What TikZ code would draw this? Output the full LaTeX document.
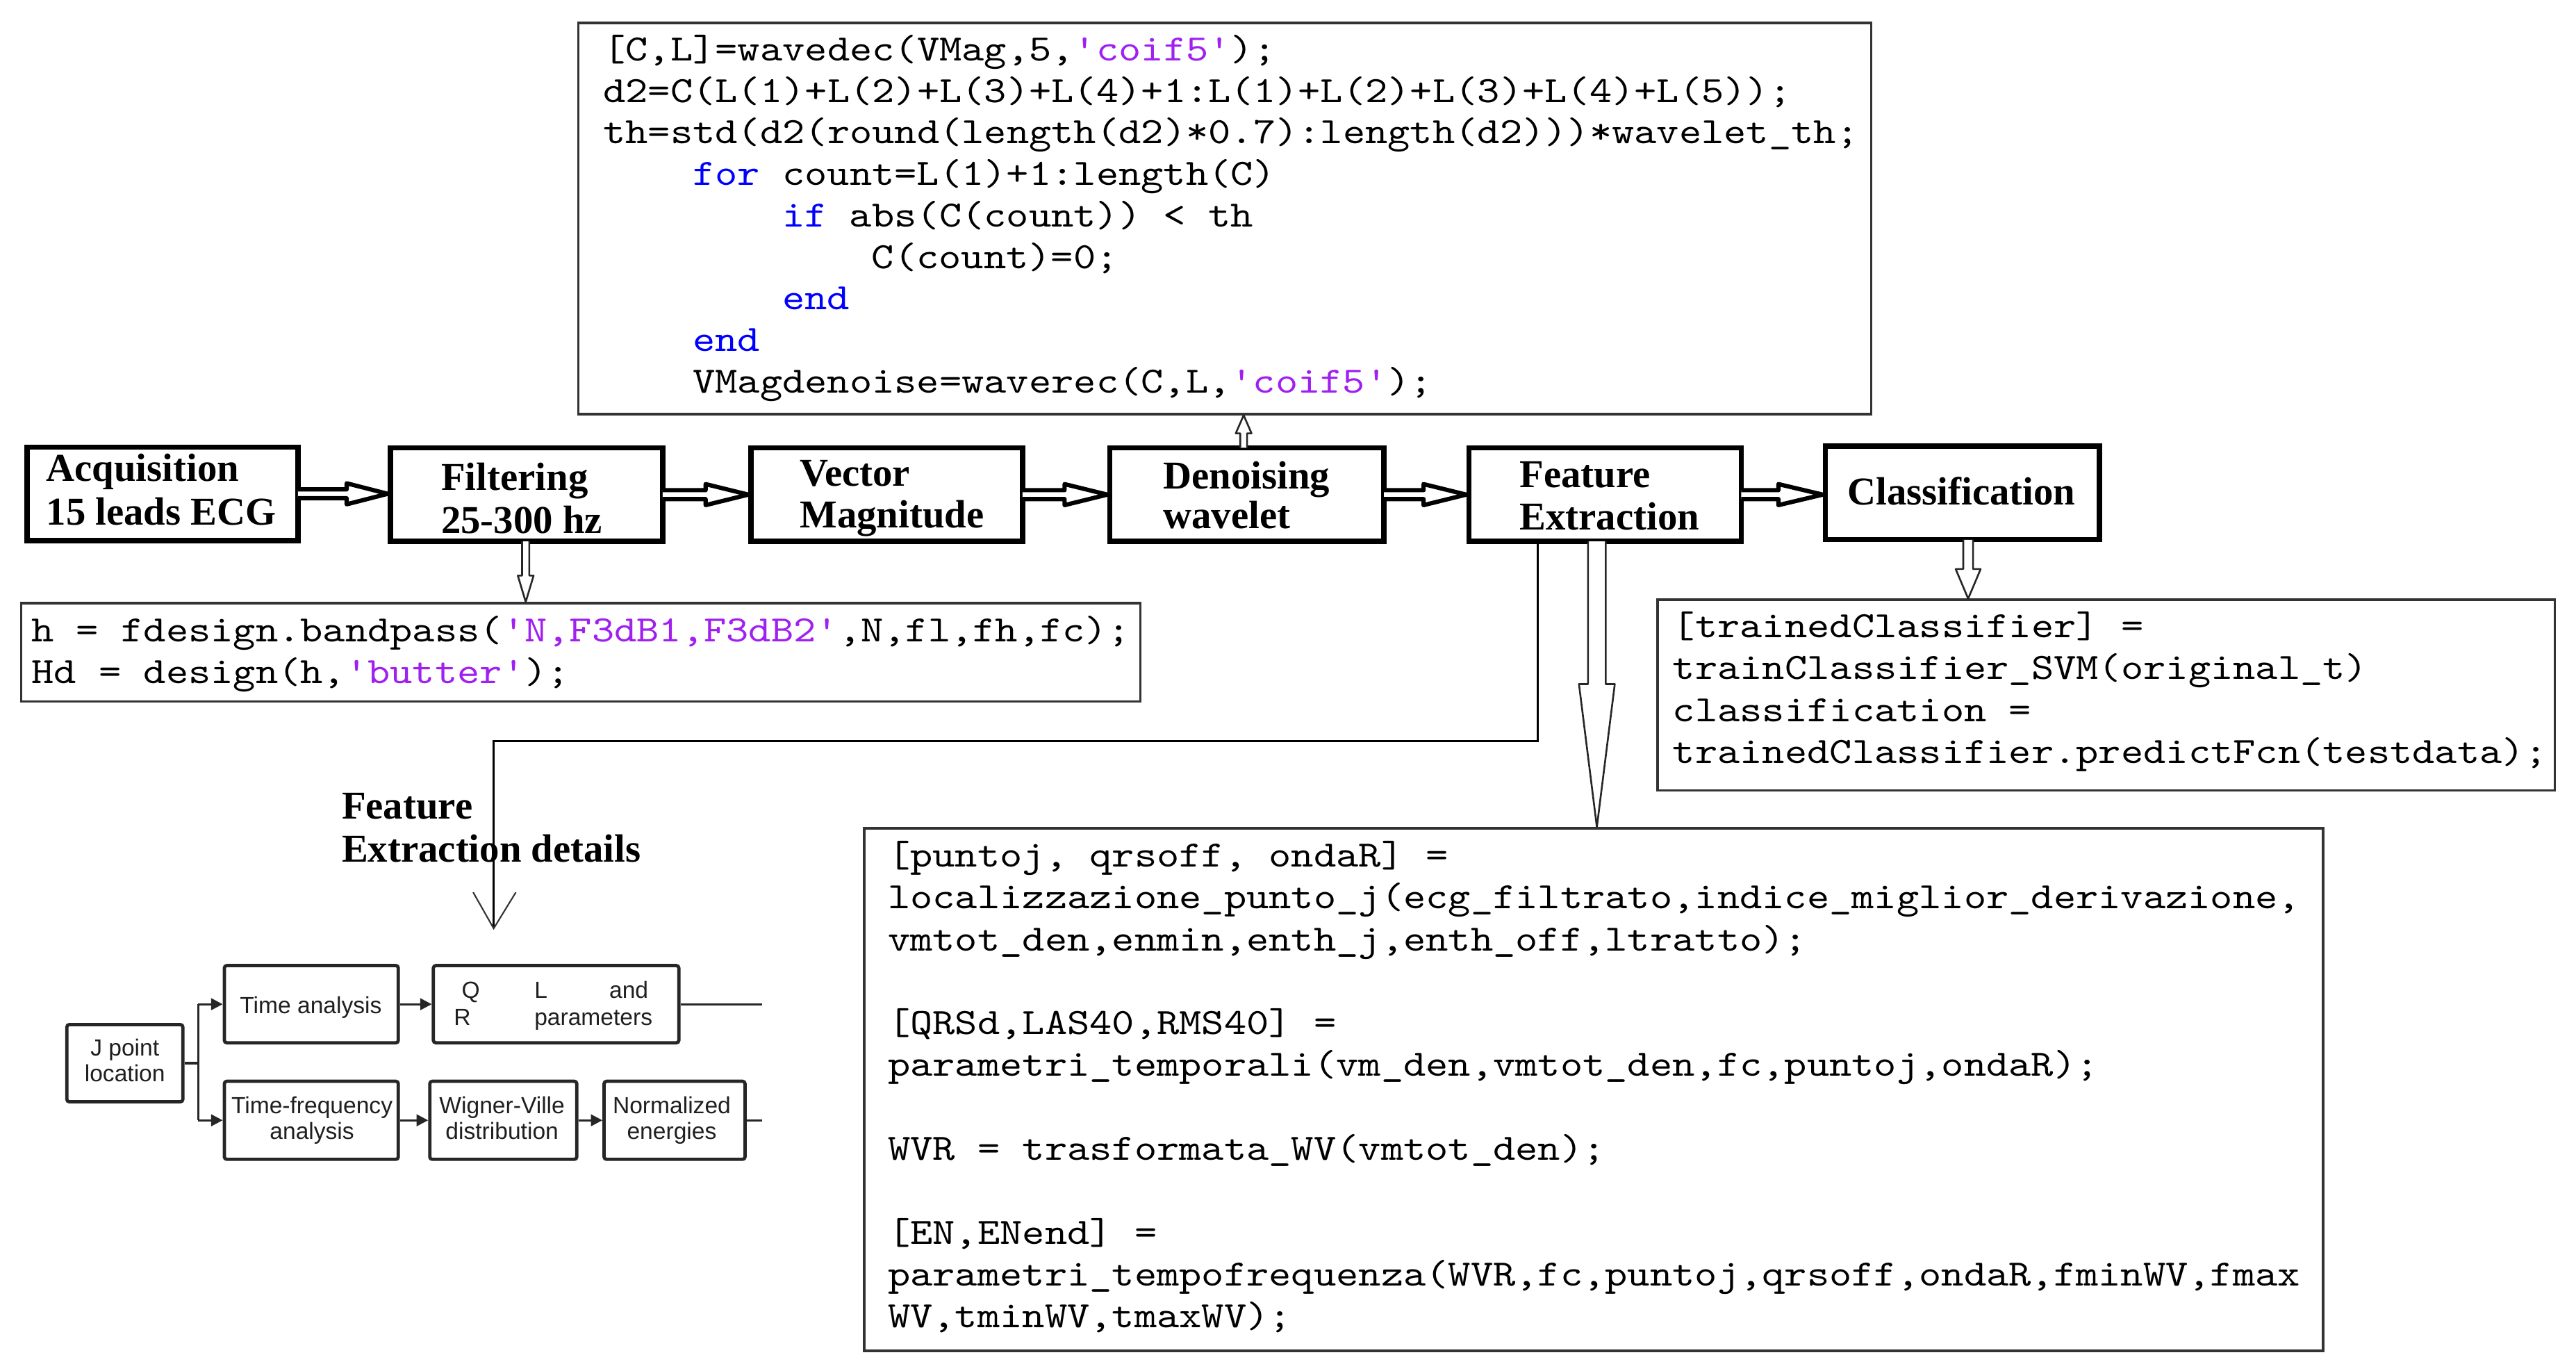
\documentclass[tikz,border=0pt]{standalone}
\usepackage{fontspec}
\setmainfont{Liberation Serif}
\setsansfont{Liberation Sans}
\newfontfamily\cmono[FakeStretch=1.15]{lmmono10-regular.otf}
\usetikzlibrary{calc,arrows.meta}
\definecolor{mstrcol}{HTML}{A020F0}
\definecolor{mkwcol}{HTML}{0000FF}
\newcommand{\strc}[1]{\textcolor{mstrcol}{#1}}
\newcommand{\kwc}[1]{\textcolor{mkwcol}{#1}}
% #1 from, #2 to, #3 shaft half, #4 head half, #5 head length
\newcommand{\hollowright}[5]{%
  \filldraw[hollowthick] let \p1=(#1), \p2=(#2) in
    (\x1-1.6pt,\y1+#3pt) -- (\x2-#5pt,\y1+#3pt) -- (\x2-#5pt,\y1+#4pt) -- (\x2,\y1)
    -- (\x2-#5pt,\y1-#4pt) -- (\x2-#5pt,\y1-#3pt) -- (\x1-1.6pt,\y1-#3pt);}
% #1 x, #2 from, #3 to, #4 shaft half, #5 head half, #6 head length
\newcommand{\hollowdown}[6]{%
  \filldraw[hollowthin] let \p1=(#2), \p2=(#3) in
    (#1pt-#4pt,\y1+1.5pt) -- (#1pt-#4pt,\y2+#6pt) -- (#1pt-#5pt,\y2+#6pt) -- (#1pt,\y2)
    -- (#1pt+#5pt,\y2+#6pt) -- (#1pt+#4pt,\y2+#6pt) -- (#1pt+#4pt,\y1+1.5pt);}
\newcommand{\hollowup}[6]{%
  \filldraw[hollowthin] let \p1=(#2), \p2=(#3) in
    (#1pt-#4pt,\y1-1.5pt) -- (#1pt-#4pt,\y2-#6pt) -- (#1pt-#5pt,\y2-#6pt) -- (#1pt,\y2)
    -- (#1pt+#5pt,\y2-#6pt) -- (#1pt+#4pt,\y2-#6pt) -- (#1pt+#4pt,\y1-1.5pt);}
\tikzset{
  mainbox/.style={draw=black, line width=3.2pt, minimum height=56.8pt, inner sep=0},
  maintext/.style={anchor=base west, inner sep=0, font=\bfseries\fontsize{24}{26}\selectfont},
  codebox/.style={draw=black!80, line width=1.4pt, inner sep=0},
  codeline/.style={anchor=base west, inner sep=0, font=\cmono\fontsize{22.6}{25}\selectfont},
  hollowthick/.style={draw=black, fill=white, line width=2.6pt, line join=round},
  hollowthin/.style={draw=black!85, fill=white, line width=1.1pt, line join=round},
  thinline/.style={draw=black, line width=1.2pt},
  thinv/.style={draw=black!80, line width=0.9pt},
  subbox/.style={draw=black!85, line width=2pt, rounded corners=1.5pt, inner sep=0},
  subline/.style={draw=black!85, line width=1.3pt},
  subarr/.style={subline, -{Triangle[length=7pt,width=7pt]}},
  subtext/.style={anchor=base, inner sep=0, font=\sffamily\fontsize{14.2}{16}\selectfont, text=black!88},
  subtextw/.style={subtext, anchor=base west}
}
\begin{document}
\begin{tikzpicture}[x=1pt,y=-1pt]
\useasboundingbox (0,0) rectangle (1568,834);

% ---------- main flow boxes ----------
\node[mainbox, minimum width=164.8pt] (acq) at (99,300.5) {};
\node[mainbox, minimum width=165.8pt] (filt) at (320.5,301) {};
\node[mainbox, minimum width=165.3pt] (vec) at (539.75,301) {};
\node[mainbox, minimum width=166.8pt] (den) at (759,301) {};
\node[mainbox, minimum width=165.8pt] (fe) at (977,301) {};
\node[mainbox, minimum width=166.8pt] (cls) at (1194.5,300) {};

\node[maintext] (acq1) at (28,293) {Acquisition};
\node[maintext] (acq2) at (28,319.5) {15 leads ECG};
\node[maintext] (filt1) at (268.4,298.5) {Filtering};
\node[maintext] (filt2) at (268.4,324.5) {25-300 hz};
\node[maintext] (vec1) at (486.7,296) {Vector};
\node[maintext] (vec2) at (486.7,321) {Magnitude};
\node[maintext] (den1) at (707.9,297.5) {Denoising};
\node[maintext] (den2) at (707.9,321.5) {wavelet};
\node[maintext] (fe1) at (924.8,296.7) {Feature};
\node[maintext] (fe2) at (924.8,322.5) {Extraction};
\node[maintext] (cls1) at (1124.4,307.3) {Classification};

\hollowright{acq.east}{filt.west}{2.7}{6.4}{25}
\hollowright{filt.east}{vec.west}{2.7}{6.4}{26}
\hollowright{vec.east}{den.west}{2.7}{6.4}{26}
\hollowright{den.east}{fe.west}{2.7}{6.4}{26}
\hollowright{fe.east}{cls.west}{2.7}{6.4}{27}

% ---------- code boxes ----------
\node[codebox, minimum width=787pt, minimum height=238pt] (tcode) at (745.5,133) {};
\node[codebox, minimum width=681pt, minimum height=60pt] (fcode) at (353.5,397) {};
\node[codebox, minimum width=546pt, minimum height=116pt] (ccode) at (1282,423) {};
\node[codebox, minimum width=888pt, minimum height=318pt] (bcode) at (970,663) {};

% top code
\node[codeline] (t1) at (367,37) {[C,L]=wavedec(VMag,5,\strc{'coif5'});};
\node[codeline] (t2) at (367,62.25) {d2=C(L(1)+L(2)+L(3)+L(4)+1:L(1)+L(2)+L(3)+L(4)+L(5));};
\node[codeline] (t3) at (367,87.5) {th=std(d2(round(length(d2)*0.7):length(d2)))*wavelet\_th;};
\node[codeline] (t4) at (421.5,112.75) {\kwc{for} count=L(1)+1:length(C)};
\node[codeline] (t5) at (476,138) {\kwc{if} abs(C(count)) < th};
\node[codeline] (t6) at (530.4,163.25) {C(count)=0;};
\node[codeline] (t7) at (476,188.5) {\kwc{end}};
\node[codeline] (t8) at (421.5,213.75) {\kwc{end}};
\node[codeline] (t9) at (421.5,239) {VMagdenoise=waverec(C,L,\strc{'coif5'});};

% filter code
\node[codeline] (f1) at (19,390.5) {h = fdesign.bandpass(\strc{'N,F3dB1,F3dB2'},N,fl,fh,fc);};
\node[codeline] (f2) at (19,416) {Hd = design(h,\strc{'butter'});};

% classification code
\node[codeline] (c1) at (1018,388) {[trainedClassifier] =};
\node[codeline] (c2) at (1018,413.5) {trainClassifier\_SVM(original\_t)};
\node[codeline] (c3) at (1018,439) {classification =};
\node[codeline] (c4) at (1018,464.5) {trainedClassifier.predictFcn(testdata);};

% feature extraction code
\node[codeline] (b1) at (540.3,527.5) {[puntoj, qrsoff, ondaR] =};
\node[codeline] (b2) at (540.3,553) {localizzazione\_punto\_j(ecg\_filtrato,indice\_miglior\_derivazione,};
\node[codeline] (b3) at (540.3,578.5) {vmtot\_den,enmin,enth\_j,enth\_off,ltratto);};
\node[codeline] (b4) at (540.3,629.5) {[QRSd,LAS40,RMS40] =};
\node[codeline] (b5) at (540.3,655) {parametri\_temporali(vm\_den,vmtot\_den,fc,puntoj,ondaR);};
\node[codeline] (b6) at (540.3,706) {WVR = trasformata\_WV(vmtot\_den);};
\node[codeline] (b7) at (540.3,757) {[EN,ENend] =};
\node[codeline] (b8) at (540.3,782.5) {parametri\_tempofrequenza(WVR,fc,puntoj,qrsoff,ondaR,fminWV,fmax};
\node[codeline] (b9) at (540.3,808) {WV,tminWV,tmaxWV);};

% thin hollow arrows
\hollowdown{320}{filt.south}{fcode.north}{2.2}{4.8}{16}
\hollowdown{1198}{cls.south}{ccode.north}{3.0}{7.6}{18}
\hollowdown{972}{fe.south}{bcode.north}{5.4}{10.9}{87}
\hollowup{757}{den.north}{tcode.south}{2.1}{4.8}{11}

% ---------- feature extraction details ----------
\coordinate (fxtip) at (300.5,565);
\draw[thinline] ($(fe.south)+(-41,0)$) |- ($(fxtip)+(0,-114)$) -- (fxtip);
\draw[thinv] ($(fxtip)+(-12.5,-22)$) -- (fxtip) -- ($(fxtip)+(13.5,-22)$);
\node[maintext] (fxd1) at (207.9,498.5) {Feature};
\node[maintext] (fxd2) at (207.9,524.5) {Extraction details};

\node[subbox, minimum width=70.6pt, minimum height=47pt] (jp) at (76,647) {};
\node[subbox, minimum width=105.9pt, minimum height=47pt] (ta) at (189.5,611.1) {};
\node[subbox, minimum width=149.4pt, minimum height=47pt] (qr) at (338.5,611.1) {};
\node[subbox, minimum width=105.9pt, minimum height=47.5pt] (tf) at (189.5,681.75) {};
\node[subbox, minimum width=89.5pt, minimum height=47.5pt] (wv) at (306.35,681.75) {};
\node[subbox, minimum width=85.8pt, minimum height=47.5pt] (ne) at (410.6,681.75) {};

\node[subtext] (jpt1) at (76,642.6) {J point};
\node[subtext] (jpt2) at (76,658.4) {location};
\node[subtext] (tat) at (189.2,616.9) {Time analysis};
\node[subtextw] (qrt1) at (280.8,607.6) {Q};
\node[subtextw] (qrt2) at (325.1,607.6) {L};
\node[subtextw] (qrt3) at (370.7,607.6) {and};
\node[subtextw] (qrt4) at (276.1,623.9) {R};
\node[subtextw] (qrt5) at (325.1,623.9) {parameters};
\node[subtext] (tft1) at (189.9,677.6) {Time-frequency};
\node[subtext] (tft2) at (189.9,693.4) {analysis};
\node[subtext] (wvt1) at (305.6,677.6) {Wigner-Ville};
\node[subtext] (wvt2) at (305.6,693.4) {distribution};
\node[subtext] (net1) at (408.9,677.6) {Normalized};
\node[subtext] (net2) at (408.9,693.4) {energies};

\draw[subline] (jp.east) -- ++(8.4,0) coordinate (jb);
\draw[subline] (jb |- ta.west) -- (jb |- tf.west);
\draw[subarr] (jb |- ta.west) -- (ta.west);
\draw[subarr] (jb |- tf.west) -- (tf.west);
\draw[subarr] (ta.east) -- (qr.west);
\draw[subarr] (tf.east) -- (wv.west);
\draw[subarr] (wv.east) -- (ne.west);
\draw[subline] (qr.east) -- ++(49.6,0) coordinate (qrend);
\draw[subline] (ne.east) -- ++(9.3,0) coordinate (neend);
\end{tikzpicture}
\end{document}
